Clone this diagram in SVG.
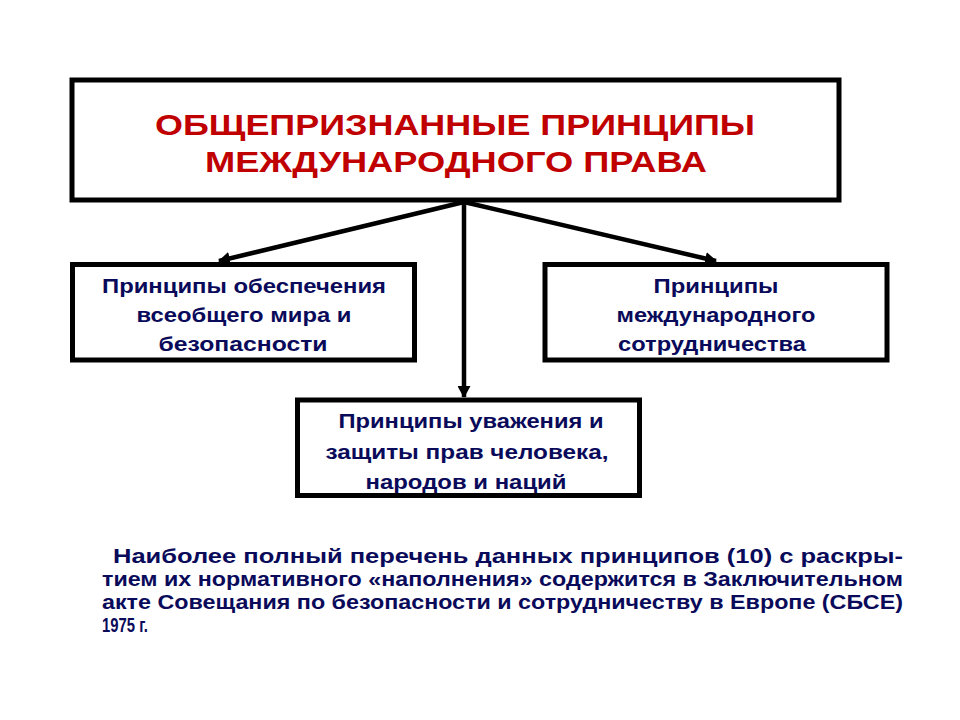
<svg xmlns="http://www.w3.org/2000/svg" width="960" height="720" viewBox="0 0 960 720">
<style>
.box{fill:#fff;stroke:#000;stroke-width:5}
.title{font-family:"Liberation Sans",Arial,sans-serif;font-weight:bold;font-size:30px;fill:#C00000;text-anchor:middle}
.t{font-family:"Liberation Sans",Arial,sans-serif;font-weight:bold;font-size:21px;fill:#0A0A5A;text-anchor:middle}
.p{font-family:"Liberation Sans",Arial,sans-serif;font-weight:bold;font-size:21px;fill:#0A0A5A}
.conn{stroke:#000;stroke-width:4.5;fill:none}
</style>
<defs>
<marker id="ah" markerWidth="13" markerHeight="13" refX="11" refY="6.5" orient="auto" markerUnits="userSpaceOnUse">
<path d="M0,0 L12,6.5 L0,13 Z" fill="#000"/>
</marker>
</defs>
<rect width="960" height="720" fill="#fff"/>
<g id="connectors">
<line class="conn" x1="464" y1="202" x2="219" y2="261" marker-end="url(#ah)"/>
<line class="conn" x1="464" y1="202" x2="716" y2="261" marker-end="url(#ah)"/>
<line class="conn" x1="464" y1="202" x2="464" y2="397" marker-end="url(#ah)"/>
</g>
<g id="root">
<rect class="box" x="72" y="80" width="767" height="120" stroke-width="6"/>
<text class="title" x="455" y="135" textLength="600" lengthAdjust="spacingAndGlyphs">ОБЩЕПРИЗНАННЫЕ ПРИНЦИПЫ</text>
<text class="title" x="456" y="172" textLength="502" lengthAdjust="spacingAndGlyphs">МЕЖДУНАРОДНОГО ПРАВА</text>
</g>
<g id="peace">
<rect class="box" x="72.5" y="264.5" width="342" height="95.5"/>
<text class="t" x="244" y="293" textLength="284" lengthAdjust="spacingAndGlyphs">Принципы обеспечения</text>
<text class="t" x="244" y="322" textLength="215" lengthAdjust="spacingAndGlyphs">всеобщего мира и</text>
<text class="t" x="243" y="351" textLength="169" lengthAdjust="spacingAndGlyphs">безопасности</text>
</g>
<g id="cooperation">
<rect class="box" x="545" y="264.5" width="342" height="95.5"/>
<text class="t" x="716" y="293" textLength="125" lengthAdjust="spacingAndGlyphs">Принципы</text>
<text class="t" x="716" y="322" textLength="199" lengthAdjust="spacingAndGlyphs">международного</text>
<text class="t" x="712" y="351" textLength="188" lengthAdjust="spacingAndGlyphs">сотрудничества</text>
</g>
<g id="rights">
<rect class="box" x="297.5" y="400" width="342" height="95.5"/>
<text class="t" x="471" y="428" textLength="265" lengthAdjust="spacingAndGlyphs">Принципы уважения и</text>
<text class="t" x="467" y="459" textLength="283" lengthAdjust="spacingAndGlyphs">защиты прав человека,</text>
<text class="t" x="466" y="489" textLength="201" lengthAdjust="spacingAndGlyphs">народов и наций</text>
</g>
<g id="note">
<text class="p" x="113" y="563" textLength="790" lengthAdjust="spacingAndGlyphs">Наиболее полный перечень данных принципов (10) с раскры-</text>
<text class="p" x="102" y="586" textLength="801" lengthAdjust="spacingAndGlyphs">тием их нормативного «наполнения» содержится в Заключительном</text>
<text class="p" x="102" y="609" textLength="801" lengthAdjust="spacingAndGlyphs">акте Совещания по безопасности и сотрудничеству в Европе (СБСЕ)</text>
<text class="p" x="102" y="632" textLength="46" lengthAdjust="spacingAndGlyphs">1975 г.</text>
</g>
</svg>
